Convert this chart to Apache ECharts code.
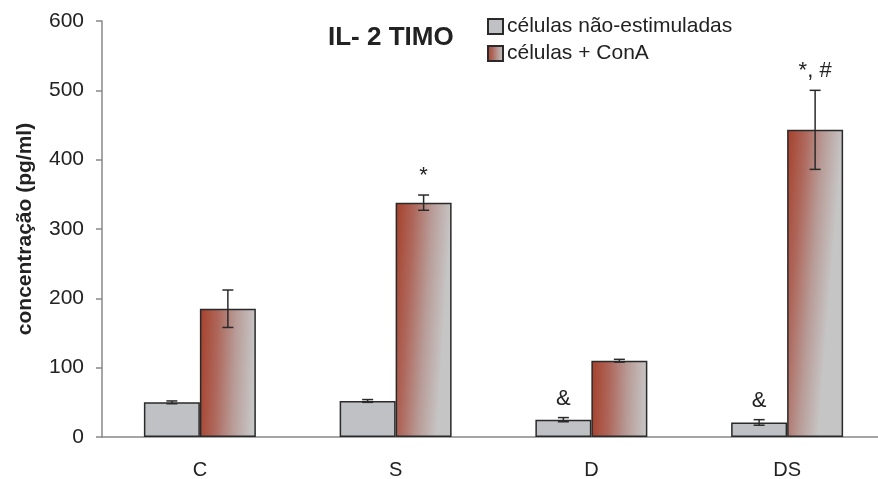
<!DOCTYPE html>
<html>
<head>
<meta charset="utf-8">
<script src="https://cdn.jsdelivr.net/npm/echarts@6/dist/echarts.min.js"></script>
<style>
  html, body { margin: 0; padding: 0; background: #fff; }
  #main { width: 878px; height: 479px; }
</style>
</head>
<body>
<div id="main"></div>
<script>
// dados
const categories = ['C', 'S', 'D', 'DS'];
const naoEstimuladas = [50, 52, 25, 21];
const naoEstimuladasErr = [2, 2, 3, 4];
const conA = [185, 338, 110, 443];
const conAErr = [27, 11, 2, 57];
const marcasNaoEst = ['', '', '&', '&'];
const marcasConA = ['', '*', '', '*, #'];
const yTicks = { min: 0, max: 600, interval: 100 };

const font = 'Liberation Sans, Arial, sans-serif';
const BAR_W = 0.286;

const redGrad = new echarts.graphic.LinearGradient(0, 0, 1, 0.015, [
  { offset: 0, color: '#a6402a' },
  { offset: 0.33, color: '#ae675b' },
  { offset: 0.66, color: '#b89c98' },
  { offset: 1, color: '#c6c5c5' }
]);

// barras de erro + anotações, desenhadas sobre as escalas do eixo
function errorSeries(name, values, errs, marks, side) {
  return {
    type: 'custom',
    name: name + '-err',
    z: 10,
    silent: true,
    data: values.map((v, i) => [i, v, errs[i]]),
    renderItem: function (params, api) {
      const i = api.value(0);
      const v = api.value(1);
      const e = api.value(2);
      const band = api.size([1, 0])[0];
      const c = api.coord([i, v]);
      const x = c[0] + side * band * BAR_W / 2;
      const top = api.coord([i, v + e])[1];
      const bot = api.coord([i, v - e])[1];
      const cap = 5.5;
      const st = { stroke: '#2a2a2a', lineWidth: 1.5 };
      const children = [
        { type: 'line', shape: { x1: x, y1: top, x2: x, y2: bot }, style: st },
        { type: 'line', shape: { x1: x - cap, y1: top, x2: x + cap, y2: top }, style: st },
        { type: 'line', shape: { x1: x - cap, y1: bot, x2: x + cap, y2: bot }, style: st }
      ];
      const mark = marks[i];
      if (mark) {
        children.push({
          type: 'text',
          style: {
            x: x, y: top - 8, text: mark,
            font: '22px ' + font, fill: '#222',
            textAlign: 'center', textVerticalAlign: 'bottom'
          }
        });
      }
      return { type: 'group', children: children };
    }
  };
}

const chart = echarts.init(document.getElementById('main'));
chart.setOption({
  animation: false,
  backgroundColor: '#fff',
  title: {
    text: 'IL- 2 TIMO',
    left: 323, top: 20,
    textStyle: { fontFamily: font, fontSize: 26, fontWeight: 'bold', color: '#222' }
  },
  legend: {
    orient: 'vertical',
    left: 482, top: 11,
    icon: 'rect',
    itemWidth: 15, itemHeight: 15,
    itemGap: 6,
    data: ['células não-estimuladas', 'células + ConA'],
    textStyle: { fontFamily: font, fontSize: 21, color: '#222', padding: [0, 0, 0, -1] }
  },
  grid: { left: 102, width: 783, top: 21, bottom: 42, outerBoundsMode: 'none' },
  xAxis: {
    type: 'category',
    data: categories,
    axisLine: { lineStyle: { color: '#888', width: 1.5 } },
    axisTick: { show: false },
    axisLabel: { fontFamily: font, fontSize: 20, color: '#222', margin: 23 }
  },
  yAxis: {
    type: 'value',
    min: yTicks.min, max: yTicks.max, interval: yTicks.interval,
    name: 'concentração (pg/ml)',
    nameLocation: 'middle',
    nameGap: 66,
    nameTextStyle: { fontFamily: font, fontSize: 21, fontWeight: 'bold', color: '#222' },
    axisLine: { show: true, lineStyle: { color: '#888', width: 1.5 } },
    axisTick: { show: true, length: 6, lineStyle: { color: '#888', width: 1.5 } },
    splitLine: { show: false },
    axisLabel: { fontFamily: font, fontSize: 21, color: '#222', margin: 18 }
  },
  series: [
    {
      name: 'células não-estimuladas',
      type: 'bar',
      data: naoEstimuladas,
      barWidth: (BAR_W * 100) + '%',
      barGap: '0%',
      itemStyle: { color: '#c0c1c4', borderColor: '#2a2a2a', borderWidth: 1.5 }
    },
    {
      name: 'células + ConA',
      type: 'bar',
      data: conA,
      barWidth: (BAR_W * 100) + '%',
      barGap: '0%',
      itemStyle: { color: redGrad, borderColor: '#2a2a2a', borderWidth: 1.5 }
    },
    errorSeries('células não-estimuladas', naoEstimuladas, naoEstimuladasErr, marcasNaoEst, -1),
    errorSeries('células + ConA', conA, conAErr, marcasConA, 1)
  ]
});
</script>
</body>
</html>
